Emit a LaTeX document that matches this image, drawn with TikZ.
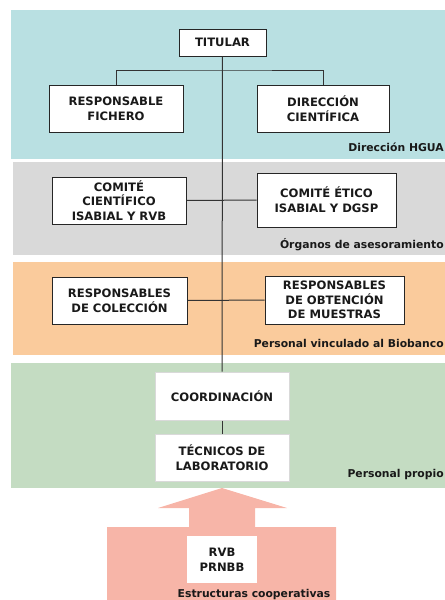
\documentclass[tikz,border=0pt]{standalone}
\usepackage{fontspec}
\setmainfont{DejaVu Sans}
\definecolor{fondoazul}{RGB}{185,224,226}
\definecolor{fondogris}{RGB}{217,217,217}
\definecolor{fondonaranja}{RGB}{250,203,156}
\definecolor{fondoverde}{RGB}{196,220,194}
\definecolor{fondorosa}{RGB}{247,181,168}
\tikzset{
	caja/.style={draw=black!85, fill=white, line width=0.75pt, align=center, inner sep=1pt,
		font=\bfseries\fontsize{8.7}{11}\selectfont, text=black!90},
	cajaclara/.style={caja, draw=black!15},
	cajasola/.style={caja, draw=none},
	etiqueta/.style={font=\bfseries\fontsize{8.1}{9}\selectfont, text=black!90, inner sep=0pt},
	linea/.style={draw=black!80, line width=0.75pt}
}
\begin{document}
\begin{tikzpicture}[x=0.75pt,y=0.75pt,yscale=-1,xscale=1]
	\clip (0,0) rectangle (445,600);
	% bandas de fondo
	\fill [fondoazul] (11,10) rectangle (450,159);
	\fill [fondogris] (13,162) rectangle (450,255);
	\fill [fondonaranja] (13,262) rectangle (450,355);
	\fill [fondoverde] (11,363) rectangle (450,488);
	% flecha de estructuras cooperativas
	\fill [fondorosa] (222,488) -- (287,508) -- (255,508) -- (255,527) -- (336,527) -- (336,605)
		-- (107,605) -- (107,527) -- (189,527) -- (189,508) -- (158,508) -- cycle;
	% cajas
	\node [caja, minimum width=65.25pt, minimum height=20.25pt] (titular) at (222.5,42.5) {TITULAR};
	\node [caja, minimum width=100.5pt, minimum height=35.25pt] (fichero) at (116,108.5) {RESPONSABLE\\FICHERO};
	\node [caja, minimum width=99pt, minimum height=35.25pt] (direccion) at (323,108.5) {DIRECCIÓN\\CIENTÍFICA};
	\node [caja, minimum width=100.5pt, minimum height=35.25pt] (cientifico) at (119,200.5) {COMITÉ\\CIENTÍFICO\\ISABIAL Y RVB};
	\node [caja, minimum width=104.25pt, minimum height=40.5pt] (etico) at (326.5,200) {COMITÉ ÉTICO\\ISABIAL Y DGSP};
	\node [caja, minimum width=101.25pt, minimum height=35.25pt] (coleccion) at (119.5,300.5) {RESPONSABLES\\DE COLECCIÓN};
	\node [caja, minimum width=104.25pt, minimum height=36pt] (obtencion) at (334.5,300) {RESPONSABLES\\DE OBTENCIÓN\\DE MUESTRAS};
	\node [cajaclara, minimum width=100.5pt, minimum height=36pt] (coordinacion) at (222,396) {COORDINACIÓN};
	\node [cajaclara, minimum width=100.5pt, minimum height=35.25pt] (tecnicos) at (222,457.5) {TÉCNICOS DE\\LABORATORIO};
	\node [cajasola, minimum width=52.5pt, minimum height=35.25pt] (rvb) at (222,559.5) {RVB\\PRNBB};
	% etiquetas de las bandas
	\node [etiqueta, anchor=base east] (hgua) at (444,151) {Dirección HGUA};
	\node [etiqueta, anchor=base east] (organos) at (444,248) {Órganos de asesoramiento};
	\node [etiqueta, anchor=base east] (vinculado) at (444,347) {Personal vinculado al Biobanco};
	\node [etiqueta, anchor=base east] (propio) at (444,477) {Personal propio};
	\node [etiqueta, anchor=base] (cooperativas) at (254,597) {Estructuras cooperativas};
	% conexiones
	\coordinate (rama) at (222,70);
	\draw [linea] (titular) -- (coordinacion);
	\draw [linea] (fichero.north) |- (rama) -| (direccion.north);
	\draw [linea] (cientifico) -- (etico);
	\draw [linea] (coleccion) -- (obtencion);
	\draw [linea] (coordinacion) -- (tecnicos);
\end{tikzpicture}
\end{document}
